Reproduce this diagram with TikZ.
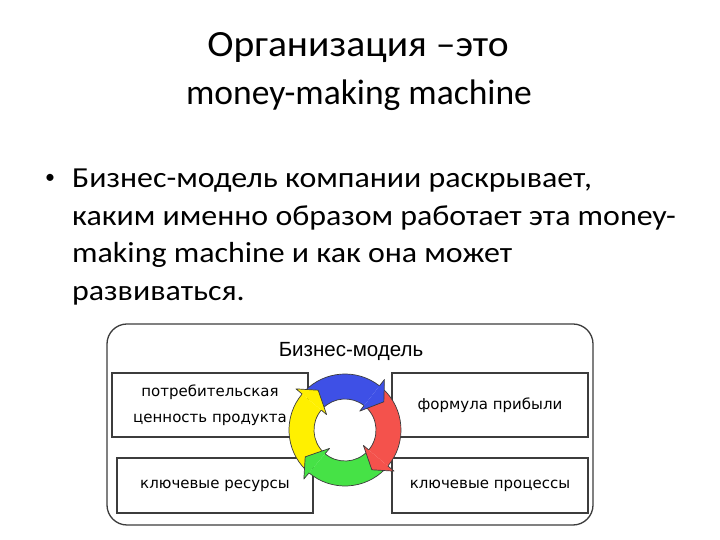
\documentclass[tikz,border=0pt]{standalone}
\usepackage{fontspec}
\setmainfont{Carlito}
\newfontfamily\bodyfont[FakeStretch=1.1]{Carlito}
\newfontfamily\titlefont[FakeStretch=1.07]{Carlito}
\newfontfamily\diagfont{DejaVu Sans}
\newfontfamily\headfont{Liberation Sans}
\usetikzlibrary{calc}
\definecolor{arBlue}{RGB}{62,80,230}
\definecolor{arRed}{RGB}{244,82,76}
\definecolor{arGreen}{RGB}{70,226,70}
\definecolor{arYellow}{RGB}{255,240,0}
\definecolor{edge}{RGB}{60,60,60}
\tikzset{
  titletext/.style={anchor=base, inner sep=0pt},
  bodytext/.style={anchor=base west, inner sep=0pt, font=\bodyfont\fontsize{29}{34}\selectfont},
  outerbox/.style={draw=edge, line width=1.3pt, rounded corners=20pt, minimum width=486pt, minimum height=201pt},
  partbox/.style={draw=edge, line width=1.3pt, minimum width=196pt, align=center, font=\diagfont\fontsize{15}{26}\selectfont},
  arrowline/.style={draw=edge, line width=0.7pt, line join=round}
}
\newcommand{\ringbody}[3]{% tail angle, head-base angle, colour
  \filldraw[arrowline, fill=#3] ([shift={(#2:56)}]C) arc[start angle=#2, end angle=#1, radius=56]
    -- ([shift={(#1:31)}]C) arc[start angle=#1, end angle=#2, radius=31];
}
\newcommand{\ringhead}[2]{% head-base angle, colour
  \filldraw[arrowline, fill=#2] ([shift={(#1:31)}]C) -- ([shift={(#1:24)}]C)
    -- ([shift={(#1-16:48)}]C) -- ([shift={(#1:64)}]C) -- ([shift={(#1:56)}]C);
}
\begin{document}
\begin{tikzpicture}[x=1pt,y=1pt]
\useasboundingbox (0,0) rectangle (720,540);
% title
\node[titletext, font=\titlefont\fontsize{37}{40}\selectfont] (t1) at (358,483) {Организация –это};
\node[titletext, font=\fontsize{35.5}{40}\selectfont] (t2) at (359,435) {money-making machine};
% bullet text
\node[inner sep=0pt, font=\fontsize{20}{20}\selectfont] (bul) at (50,361) {•};
\node[bodytext] (l1) at (72,352) {Бизнес-модель компании раскрывает,};
\node[bodytext] (l2) at (72,314.5) {каким именно образом работает эта money-};
\node[bodytext] (l3) at (72,277) {making machine и как она может};
\node[bodytext] (l4) at (72,239.5) {развиваться.};
% diagram
\node[outerbox] (bm) at (350,115.5) {};
\node[anchor=base, inner sep=0pt, font=\headfont\fontsize{20.5}{22}\selectfont] (bmt) at (351,183) {Бизнес-модель};
\node[partbox, minimum height=64pt] (val) at (210,135) {потребительская\\ценность продукта};
\node[partbox, minimum height=64pt] (prof) at (490,135) {формула прибыли};
\node[partbox, minimum height=55pt] (res) at (215,54.5) {ключевые ресурсы};
\node[partbox, minimum height=55pt] (proc) at (490,54.5) {ключевые процессы};
% cycle of arrows
\coordinate (C) at (345,110);
\ringbody{136}{52}{arBlue}
\ringbody{48}{-40}{arRed}
\ringbody{-44}{-130}{arGreen}
\ringbody{226}{140}{arYellow}
\ringhead{52}{arBlue}
\ringhead{-40}{arRed}
\ringhead{-130}{arGreen}
\ringhead{140}{arYellow}
\end{tikzpicture}
\end{document}
